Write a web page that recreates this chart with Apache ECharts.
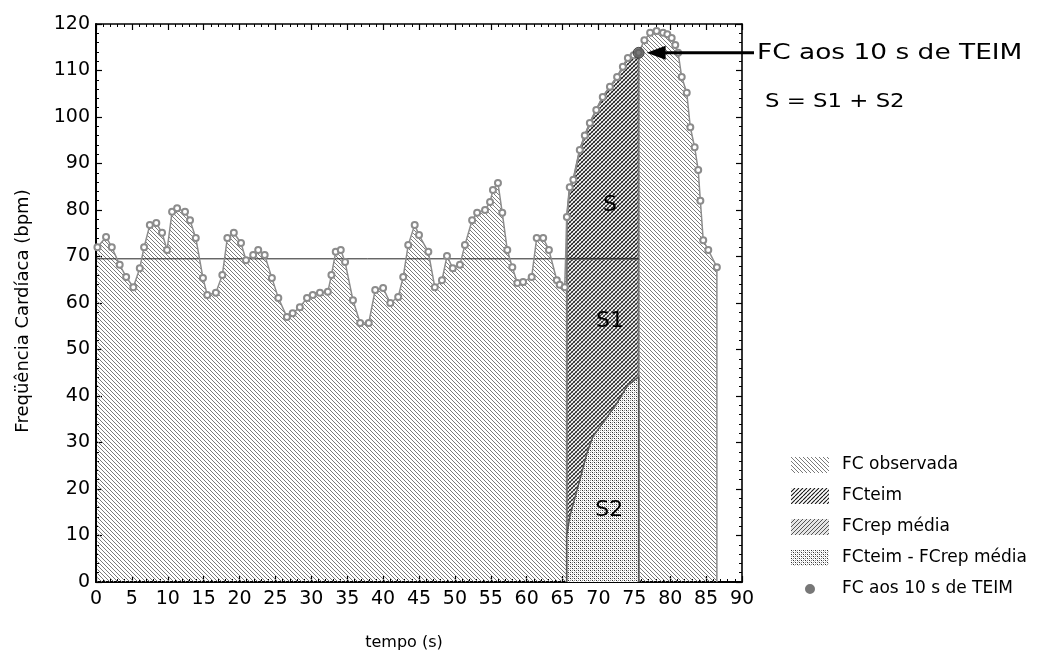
<!DOCTYPE html>
<html>
<head>
<meta charset="utf-8">
<script src="https://cdn.jsdelivr.net/npm/echarts@6/dist/echarts.min.js"></script>
<style>
  html, body { margin: 0; padding: 0; background: #fff; }
  #chart { width: 1041px; height: 657px; }
</style>
</head>
<body>
<div id="chart"></div>
<script>
// Observed heart rate (bpm) against time (s)
const timeObs = [0.2, 1.4, 2.2, 3.3, 4.2, 5.2, 6.1, 6.7, 7.5, 8.4, 9.2, 9.9, 10.6, 11.3, 12.4, 13.1, 13.9,
  14.9, 15.5, 16.7, 17.6, 18.3, 19.2, 20.2, 20.9, 21.9, 22.6, 23.5, 24.5, 25.4, 26.6, 27.4, 28.4, 29.4,
  30.2, 31.2, 32.3, 32.8, 33.4, 34.1, 34.7, 35.8, 36.8, 38.0, 38.9, 40.0, 41.0, 42.1, 42.8, 43.5, 44.4,
  45.0, 46.3, 47.2, 48.2, 48.9, 49.7, 50.7, 51.4, 52.4, 53.1, 54.2, 54.9, 55.3, 56.0, 56.6, 57.3, 58.0,
  58.7, 59.5, 60.7, 61.4, 62.3, 63.1, 64.2, 64.6, 65.3, 65.6, 66.0, 66.5, 67.4, 68.1, 68.8, 69.7, 70.6,
  71.6, 72.6, 73.4, 74.1, 74.9, 75.6, 76.4, 77.2, 78.1, 79.0, 79.6, 80.2, 80.7, 81.1, 81.6, 82.3, 82.8,
  83.4, 83.9, 84.2, 84.6, 85.3, 86.5];
const fcObs = [72.0, 74.2, 72.0, 68.2, 65.6, 63.4, 67.5, 72.0, 76.8, 77.2, 75.1, 71.4, 79.6, 80.4, 79.6, 77.8, 74.0,
  65.4, 61.7, 62.2, 66.0, 74.0, 75.1, 72.9, 69.2, 70.3, 71.4, 70.3, 65.4, 61.1, 57.0, 57.8, 59.1, 61.1,
  61.7, 62.2, 62.4, 66.0, 71.0, 71.4, 68.8, 60.6, 55.7, 55.7, 62.8, 63.2, 60.0, 61.3, 65.6, 72.5, 76.8,
  74.6, 71.0, 63.4, 64.9, 70.1, 67.5, 68.2, 72.5, 77.8, 79.4, 80.0, 81.7, 84.3, 85.8, 79.4, 71.4, 67.7,
  64.3, 64.5, 65.6, 74.0, 74.0, 71.4, 64.9, 63.9, 63.4, 78.5, 84.9, 86.5, 92.9, 96.0, 98.7, 101.5, 104.3,
  106.5, 108.6, 110.8, 112.7, 113.3, 113.8, 116.5, 118.1, 118.5, 118.1, 117.8, 117.0, 115.5, 113.8, 108.6, 105.2, 97.8,
  93.5, 88.6, 82.0, 73.5, 71.4, 67.7];

// TEIM window (s), mean resting HR and HR 10 s into TEIM
const teimStart = 65.6;
const teimEnd = 75.6;
const fcRepMedia = 69.5;
const fc10s = 113.8;

// Boundary curve between S1 and S2
const repCurveTime = [65.6, 66.0, 67.4, 68.4, 69.2, 70.9, 72.6, 74.1, 74.7, 75.6];
const repCurveValue = [10.0, 14.0, 21.9, 27.7, 31.2, 34.8, 38.5, 42.4, 43.0, 44.1];

// Axis ticks
const xTickValues = [0, 5, 10, 15, 20, 25, 30, 35, 40, 45, 50, 55, 60, 65, 70, 75, 80, 85, 90];
const yTickValues = [0, 10, 20, 30, 40, 50, 60, 70, 80, 90, 100, 110, 120];

const legendNames = ['FC observada', 'FCteim', 'FCrep média', 'FCteim - FCrep média', 'FC aos 10 s de TEIM'];

// ---- hatch fills ----
function hatchTile(size, color, width, dir, bg) {
  const c = document.createElement('canvas');
  c.width = c.height = size;
  const g = c.getContext('2d');
  if (bg) { g.fillStyle = bg; g.fillRect(0, 0, size, size); }
  g.strokeStyle = color;
  g.lineWidth = width;
  g.beginPath();
  for (let k = -1; k <= 1; k++) {
    if (dir === '\\') { g.moveTo(k * size, 0); g.lineTo(k * size + size, size); }
    else { g.moveTo(k * size, size); g.lineTo(k * size + size, 0); }
  }
  g.stroke();
  return { image: c, repeat: 'repeat' };
}
function dotTile() {
  const c = document.createElement('canvas');
  c.width = c.height = 4;
  const g = c.getContext('2d');
  g.fillStyle = '#fff'; g.fillRect(0, 0, 4, 4);
  g.fillStyle = '#2e2e2e'; g.fillRect(0, 0, 1, 1); g.fillRect(2, 2, 1, 1);
  g.fillStyle = '#8a8a8a'; g.fillRect(2, 0, 1, 1); g.fillRect(0, 2, 1, 1);
  g.fillStyle = '#d0d0d0'; g.fillRect(1, 1, 1, 1); g.fillRect(3, 3, 1, 1);
  return { image: c, repeat: 'repeat' };
}
const pObs = hatchTile(4, '#7a7a7a', 1, '\\');
const pTeim = hatchTile(4, '#151515', 1.1, '/');
const pRep = hatchTile(4, '#222', 1.1, '/');
const pRepKey = hatchTile(4, '#555', 1, '/', '#e6e6e6');
const pDiff = dotTile();

const obsPts = timeObs.map((t, i) => [t, fcObs[i]]);
const lastT = timeObs[timeObs.length - 1];
const teimPts = obsPts.filter(p => p[0] >= teimStart && p[0] <= teimEnd);
const repPts = repCurveTime.map((t, i) => [t, repCurveValue[i]]);

const FONT = 'DejaVu Sans';
const chart = echarts.init(document.getElementById('chart'));

const baseX = {
  type: 'value', min: xTickValues[0], max: xTickValues[xTickValues.length - 1],
  interval: xTickValues[1] - xTickValues[0],
  splitLine: { show: false }
};
const baseY = {
  type: 'value', min: yTickValues[0], max: yTickValues[yTickValues.length - 1],
  interval: yTickValues[1] - yTickValues[0],
  splitLine: { show: false }
};
const tickStyle = {
  axisTick: { inside: true, length: 6, lineStyle: { color: '#000', width: 1.2 } },
  minorTick: { show: true, splitNumber: 5, length: 3, lineStyle: { color: '#000', width: 1 } }
};

chart.setOption({
  animation: false,
  backgroundColor: '#fff',
  grid: { left: 96, right: 299, top: 24, bottom: 75, containLabel: false },
  xAxis: [
    Object.assign({}, baseX, tickStyle, {
      position: 'bottom',
      name: 'tempo (s)', nameLocation: 'middle', nameGap: 53,
      nameTextStyle: { fontFamily: FONT, fontSize: 16, color: '#000', padding: [0, 30, 0, 0] },
      axisLine: { onZero: false, lineStyle: { color: '#000', width: 2 } },
      axisLabel: { fontFamily: FONT, fontSize: 19, color: '#000', margin: 8 }
    }),
    Object.assign({}, baseX, tickStyle, {
      position: 'top',
      axisLine: { onZero: false, lineStyle: { color: '#000', width: 1.6 } },
      axisLabel: { show: false }
    })
  ],
  yAxis: [
    Object.assign({}, baseY, tickStyle, {
      position: 'left',
      name: 'Freqüência Cardíaca (bpm)', nameLocation: 'middle', nameGap: 64, nameRotate: 90,
      nameTextStyle: { fontFamily: FONT, fontSize: 18, color: '#000', padding: [0, 16, 0, 0] },
      axisLine: { onZero: false, lineStyle: { color: '#000', width: 2 } },
      axisLabel: { fontFamily: FONT, fontSize: 19, color: '#000', margin: 6 }
    }),
    Object.assign({}, baseY, tickStyle, {
      position: 'right',
      axisLine: { onZero: false, lineStyle: { color: '#000', width: 1.6 } },
      axisLabel: { show: false }
    })
  ],
  legend: {
    orient: 'vertical', left: 786, top: 450,
    itemWidth: 38, itemHeight: 16, itemGap: 11,
    textStyle: { fontFamily: FONT, fontSize: 17, color: '#000', lineHeight: 20, padding: [0, 0, 0, 8] },
    selectedMode: false,
    data: [
      { name: legendNames[0], icon: 'rect', itemStyle: { color: pObs, borderWidth: 0 } },
      { name: legendNames[1], icon: 'rect', itemStyle: { color: pTeim, borderWidth: 0 } },
      { name: legendNames[2], icon: 'rect', itemStyle: { color: pRepKey, borderWidth: 0 } },
      { name: legendNames[3], icon: 'rect', itemStyle: { color: pDiff, borderWidth: 0 } },
      { name: legendNames[4], icon: 'path://M-8,-8h0.01M8,8h0.01M0,-5A5,5 0 1,0 0.01,-5Z',
        itemStyle: { color: '#555', borderWidth: 0 } }
    ]
  },
  series: [
    { // observed HR area
      name: legendNames[0], type: 'line', data: obsPts, symbol: 'none', silent: true,
      lineStyle: { width: 0 }, areaStyle: { color: pObs, opacity: 1 }, z: 1
    },
    { // S1 block under the resting mean inside TEIM window
      name: legendNames[2], type: 'line', symbol: 'none', silent: true,
      data: [[teimStart, 0], [teimStart, fcRepMedia], [teimEnd, fcRepMedia], [teimEnd, 0]],
      lineStyle: { color: '#777', width: 2 }, areaStyle: { color: pRep, opacity: 1 }, z: 2
    },
    { // S2 under the boundary curve
      name: legendNames[3], type: 'line', symbol: 'none', silent: true,
      data: [[teimStart, 0]].concat(repPts, [[teimEnd, 0]]),
      lineStyle: { color: '#555', width: 1.5 }, areaStyle: { color: pDiff, opacity: 1 }, z: 3
    },
    { // S: TEIM response above the resting mean
      name: legendNames[1], type: 'line', symbol: 'none', silent: true,
      data: [[teimStart, fcRepMedia]].concat(teimPts, [[teimEnd, fcRepMedia]]),
      lineStyle: { color: '#777', width: 2 },
      areaStyle: { color: pTeim, opacity: 1, origin: fcRepMedia }, z: 4
    },
    { // resting mean level
      name: legendNames[2], type: 'line', symbol: 'none', silent: true,
      data: [[0, fcRepMedia], [teimEnd, fcRepMedia]],
      lineStyle: { color: '#222', width: 1 }, z: 5
    },
    { // observed HR trace with beat markers
      name: legendNames[0], type: 'line', silent: true,
      data: obsPts.concat([{ value: [lastT, 0], symbol: 'none' }]),
      symbol: 'emptyCircle', symbolSize: 6, showAllSymbol: true,
      itemStyle: { color: '#8c8c8c', borderWidth: 1.2 },
      lineStyle: { color: '#8c8c8c', width: 1.5 }, z: 6
    },
    { // HR 10 s into TEIM
      name: legendNames[4], type: 'scatter', silent: true,
      data: [[teimEnd, fc10s]], symbolSize: 11,
      itemStyle: { color: '#5a5a5a', borderColor: '#333', borderWidth: 1 }, z: 7
    }
  ]
});

// annotations placed through the axes' own scales
const toPx = v => chart.convertToPixel({ xAxisIndex: 0, yAxisIndex: 0 }, v);
const dot = toPx([teimEnd, fc10s]);
const frameRight = toPx([xTickValues[xTickValues.length - 1], 0])[0];
const tipX = dot[0] + 8;
const labelS = toPx([71.6, 81]);
const labelS1 = toPx([71.6, 56]);
const labelS2 = toPx([71.5, 15.5]);
const regionText = (txt, p) => ({
  type: 'text', x: p[0], y: p[1], z: 100,
  style: { text: txt, fontFamily: FONT, fontSize: 22, fill: '#000', align: 'center', verticalAlign: 'middle' }
});

chart.setOption({
  graphic: [
    { type: 'line', z: 100, shape: { x1: tipX + 14, y1: dot[1], x2: frameRight + 12, y2: dot[1] },
      style: { stroke: '#000', lineWidth: 3 } },
    { type: 'polygon', z: 100, shape: { points: [[tipX, dot[1]], [tipX + 19, dot[1] - 7], [tipX + 19, dot[1] + 7]] },
      style: { fill: '#000' } },
    { type: 'text', z: 100, x: frameRight + 15, y: dot[1], scaleX: 1.2,
      style: { text: 'FC aos 10 s de TEIM', fontFamily: FONT, fontSize: 22, fill: '#000', align: 'left', verticalAlign: 'middle' } },
    { type: 'text', z: 100, x: frameRight + 23, y: dot[1] + 49, scaleX: 1.2,
      style: { text: 'S = S1 + S2', fontFamily: FONT, fontSize: 19, fill: '#000', align: 'left', verticalAlign: 'middle' } },
    regionText('S', labelS),
    regionText('S1', labelS1),
    regionText('S2', labelS2)
  ]
});
</script>
</body>
</html>
